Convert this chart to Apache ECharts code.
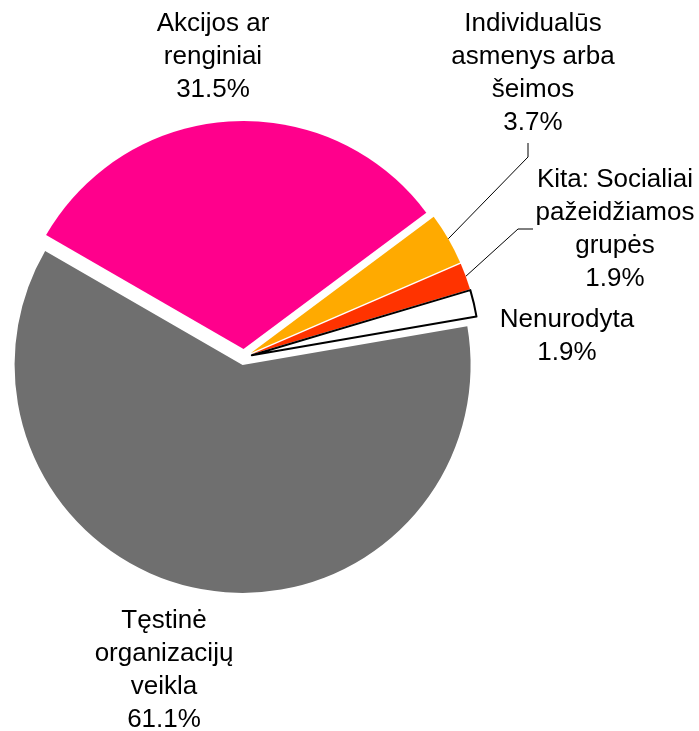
<!DOCTYPE html>
<html>
<head>
<meta charset="utf-8">
<script src="https://cdn.jsdelivr.net/npm/echarts@6/dist/echarts.min.js"></script>
<style>
  html, body { margin: 0; padding: 0; background: #fff; }
  #chart { width: 699px; height: 731px; }
</style>
</head>
<body>
<div id="chart"></div>
<script>
// slices in clockwise order, starting from the upper-left edge
const names = [
  "Akcijos ar\nrenginiai",
  "Individualūs\nasmenys arba\nšeimos",
  "Kita: Socialiai\npažeidžiamos\ngrupės",
  "Nenurodyta",
  "Tęstinė\norganizacijų\nveikla"
];
const shares = [31.5, 3.7, 1.9, 1.9, 61.1];
const colors = ["#ff008c", "#ffaa00", "#ff3300", "#ffffff", "#6f6f6f"];

// label block centres
const labelPos = [[213, 57], [533, 73], [615, 229], [567, 336], [164, 670]];
// leader line bends/ends for the two small slices
const leaderTail = {
  1: [[528, 157], [528, 143]],
  2: [[518, 229], [533, 229]]
};

const chart = echarts.init(document.getElementById("chart"));

const common = {
  type: "pie",
  center: [244, 357],
  startAngle: 150,
  clockwise: true,
  avoidLabelOverlap: false,
  emphasis: { disabled: true }
};

chart.setOption({
  animation: false,
  series: [
    // exploded slices
    Object.assign({}, common, {
      radius: 228,
      selectedMode: "multiple",
      selectedOffset: 8,
      label: { show: false },
      labelLine: { show: false },
      data: names.map((n, i) => ({
        name: n,
        value: shares[i],
        selected: true,
        itemStyle: i === 3
          ? { color: colors[i], borderColor: "#000", borderWidth: 2 }
          : { color: colors[i] }
      }))
    }),
    // labels (invisible copy of the pie, not exploded)
    Object.assign({}, common, {
      radius: 236,
      silent: true,
      itemStyle: { color: "rgba(0,0,0,0)" },
      label: {
        show: true,
        position: "outside",
        fontFamily: "Liberation Sans, Arial, sans-serif",
        fontSize: 26,
        lineHeight: 33,
        color: "#000",
        align: "center",
        formatter: (p) => p.name + "\n" + p.value.toFixed(1) + "%"
      },
      labelLine: {
        show: true,
        lineStyle: { color: "#000", width: 1 }
      },
      labelLayout: (params) => {
        const i = params.dataIndex;
        const out = {
          x: labelPos[i][0],
          y: labelPos[i][1],
          align: "center",
          verticalAlign: "middle"
        };
        if (leaderTail[i] && params.labelLinePoints) {
          out.labelLinePoints = [params.labelLinePoints[0]].concat(leaderTail[i]);
        }
        return out;
      },
      data: names.map((n, i) => ({
        name: n,
        value: shares[i],
        labelLine: { show: !!leaderTail[i] }
      }))
    })
  ]
});
</script>
</body>
</html>
